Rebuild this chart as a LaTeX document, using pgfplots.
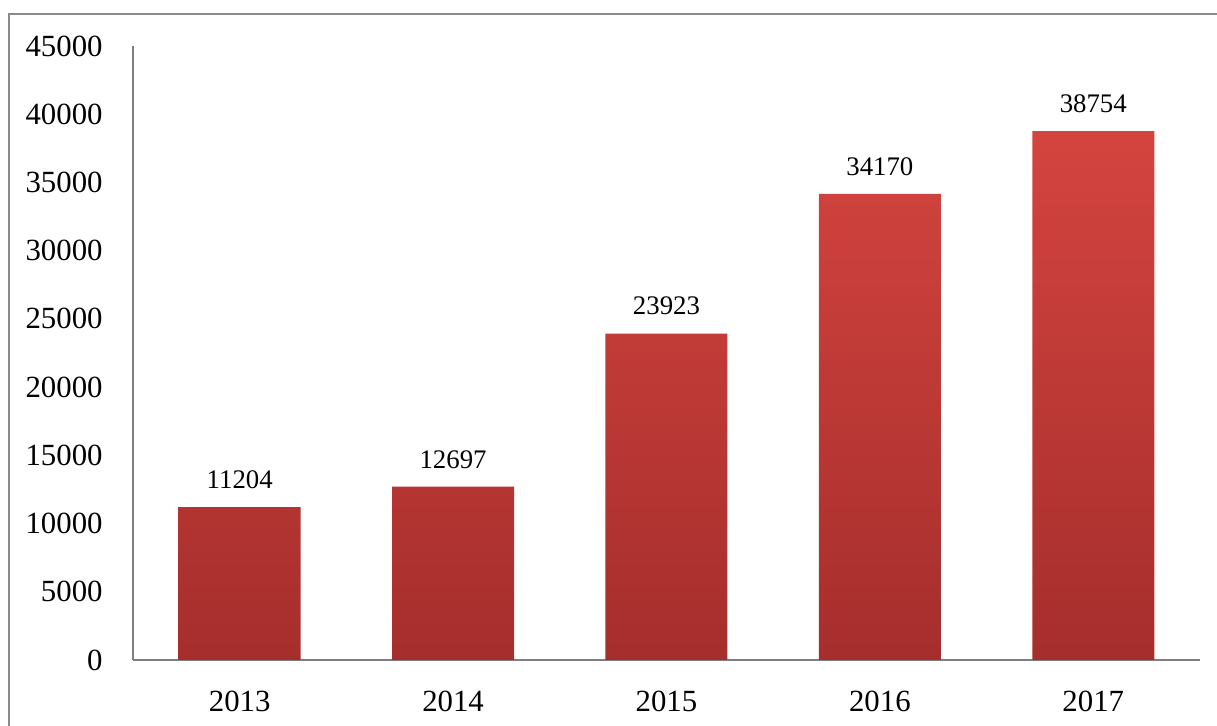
\documentclass[border=0pt]{standalone}
\usepackage{fontspec}
\setmainfont{Liberation Serif}
\usepackage{pgfplots}
\pgfplotsset{compat=1.18}
\definecolor{bartop}{HTML}{D4443F}
\definecolor{barbot}{HTML}{A52E2C}
\definecolor{framegray}{HTML}{8A8A8A}
\definecolor{axgray}{HTML}{7F7F7F}
\begin{document}
\begin{tikzpicture}
\useasboundingbox (0,0) rectangle (608.5pt,363pt);
\draw[framegray, line width=1.2pt] (4.5pt,-2pt) -- (4.5pt,356pt) -- (612pt,356pt);
\begin{axis}[
  at={(66.5pt,33pt)}, anchor=south west,
  scale only axis, width=533.5pt, height=307pt,
  xmin=-0.5, xmax=4.5, ymin=0, ymax=45000,
  axis lines=left, axis line style={-, axgray, line width=0.6pt},
  major tick length=0pt,
  xtick=data, xticklabels={2013,2014,2015,2016,2017},
  ytick={0,5000,...,45000},
  /pgf/number format/assume math mode=true,
  scaled y ticks=false,
  yticklabel style={/pgf/number format/1000 sep={}, font=\fontsize{15.4}{17}\selectfont, anchor=east, inner sep=0pt, xshift=-15pt},
  xticklabel style={font=\fontsize{15.4}{17}\selectfont, anchor=north, inner sep=0pt, yshift=-15.5pt},
  ybar, bar width=61pt, bar shift=0pt,
  nodes near coords,
  nodes near coords style={font=\fontsize{13.4}{15}\selectfont, inner sep=0pt, anchor=south, yshift=9pt, /pgf/number format/1000 sep={}},
  clip=false,
]
\addplot[draw=none, top color=bartop, bottom color=barbot] coordinates {(0,11204) (1,12697) (2,23923) (3,34170) (4,38754)};
\end{axis}
\end{tikzpicture}
\end{document}
